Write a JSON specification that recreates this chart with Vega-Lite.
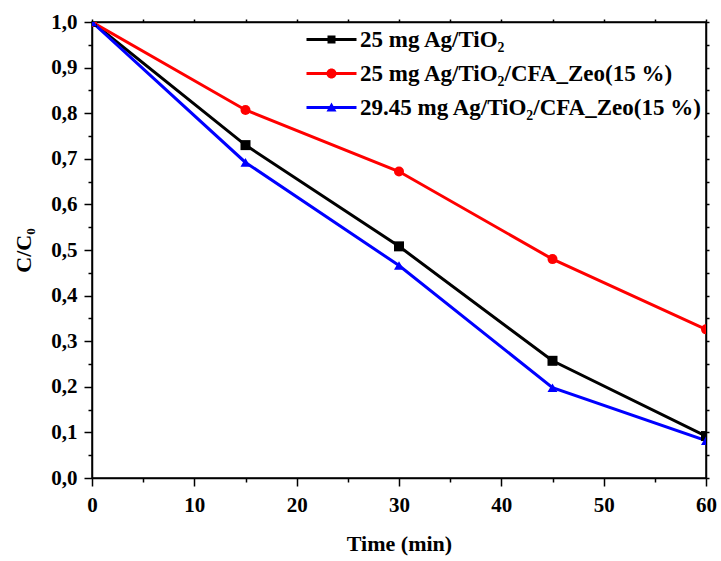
{
  "$schema": "https://vega.github.io/schema/vega-lite/v6.json",
  "width": 614,
  "height": 456,
  "autosize": {"type": "none"},
  "padding": {"left": 92, "top": 22, "right": 15, "bottom": 83},
  "background": "white",
  "config": {
    "font": "Liberation Serif",
    "view": {"stroke": "black", "strokeWidth": 1.5},
    "axis": {
      "labelFont": "Liberation Serif",
      "titleFont": "Liberation Serif",
      "labelFontWeight": "bold",
      "titleFontWeight": "bold",
      "labelFontSize": 21,
      "titleFontSize": 22,
      "labelColor": "black",
      "titleColor": "black",
      "domainColor": "black",
      "tickColor": "black",
      "domainWidth": 1.5,
      "tickWidth": 1.5,
      "grid": false
    }
  },
  "data": {
    "values": [
      {"series": "25 mg Ag/TiO₂", "time": 0, "cc": 1.0},
      {"series": "25 mg Ag/TiO₂", "time": 15, "cc": 0.730},
      {"series": "25 mg Ag/TiO₂", "time": 30, "cc": 0.508},
      {"series": "25 mg Ag/TiO₂", "time": 45, "cc": 0.257},
      {"series": "25 mg Ag/TiO₂", "time": 60, "cc": 0.092},
      {"series": "25 mg Ag/TiO₂/CFA_Zeo(15 %)", "time": 0, "cc": 1.0},
      {"series": "25 mg Ag/TiO₂/CFA_Zeo(15 %)", "time": 15, "cc": 0.807},
      {"series": "25 mg Ag/TiO₂/CFA_Zeo(15 %)", "time": 30, "cc": 0.672},
      {"series": "25 mg Ag/TiO₂/CFA_Zeo(15 %)", "time": 45, "cc": 0.480},
      {"series": "25 mg Ag/TiO₂/CFA_Zeo(15 %)", "time": 60, "cc": 0.326},
      {"series": "29.45 mg Ag/TiO₂/CFA_Zeo(15 %)", "time": 0, "cc": 1.0},
      {"series": "29.45 mg Ag/TiO₂/CFA_Zeo(15 %)", "time": 15, "cc": 0.692},
      {"series": "29.45 mg Ag/TiO₂/CFA_Zeo(15 %)", "time": 30, "cc": 0.466},
      {"series": "29.45 mg Ag/TiO₂/CFA_Zeo(15 %)", "time": 45, "cc": 0.198},
      {"series": "29.45 mg Ag/TiO₂/CFA_Zeo(15 %)", "time": 60, "cc": 0.082}
    ]
  },
  "layer": [
    {
      "mark": {"type": "line", "strokeWidth": 3, "clip": true},
      "encoding": {
        "x": {
          "field": "time", "type": "quantitative",
          "scale": {"domain": [0, 60], "nice": false, "zero": false},
          "axis": {
            "orient": "bottom",
            "title": "Time (min)",
            "values": [0, 5, 10, 15, 20, 25, 30, 35, 40, 45, 50, 55, 60],
            "labelExpr": "datum.value % 10 === 0 ? format(datum.value, 'd') : ''",
            "tickSize": {"condition": {"test": "datum.value % 10 !== 0", "value": 4}, "value": 8},
            "labelPadding": 8,
            "titlePadding": 18,
            "labelFlush": false
          }
        },
        "y": {
          "field": "cc", "type": "quantitative",
          "scale": {"domain": [0, 1], "nice": false},
          "axis": {
            "orient": "left",
            "title": "C/C₀",
            "values": [0, 0.05, 0.1, 0.15, 0.2, 0.25, 0.3, 0.35, 0.4, 0.45, 0.5, 0.55, 0.6, 0.65, 0.7, 0.75, 0.8, 0.85, 0.9, 0.95, 1.0],
            "labelExpr": "round(datum.value * 100) % 10 === 0 ? replace(format(datum.value, '.1f'), '.', ',') : ''",
            "tickSize": {"condition": {"test": "round(datum.value * 100) % 10 !== 0", "value": 4}, "value": 8},
            "labelPadding": 7,
            "titlePadding": 15,
            "labelFlush": false
          }
        },
        "color": {
          "field": "series", "type": "nominal",
          "scale": {
            "domain": ["25 mg Ag/TiO₂", "25 mg Ag/TiO₂/CFA_Zeo(15 %)", "29.45 mg Ag/TiO₂/CFA_Zeo(15 %)"],
            "range": ["#000000", "#ff0000", "#0000ff"]
          },
          "legend": {
            "title": null,
            "orient": "none",
            "legendX": 213,
            "legendY": 6,
            "padding": 0,
            "symbolSize": 400,
            "symbolType": "M-1,-0.15H4V0.15H-1Z",
            "labelOffset": 32,
            "labelFont": "Liberation Serif",
            "labelFontSize": 23,
            "labelFontWeight": "bold",
            "labelColor": "black",
            "labelLimit": 0,
            "rowPadding": 10,
            "encode": {
              "symbols": {
                "update": {
                  "shape": {"signal": "datum.index === 0 ? 'M-1,-0.15H4V0.15H-1Z M1.1,-0.4H1.9V0.4H1.1Z' : datum.index === 1 ? 'M-1,-0.15H4V0.15H-1Z M1,0A0.5,0.5 0 1,1 2,0A0.5,0.5 0 1,1 1,0Z' : 'M-1,-0.15H4V0.15H-1Z M1.5,-0.5L2,0.4L1,0.4Z'"},
                  "fill": {"signal": "scale('color', datum.value)"},
                  "stroke": {"value": "transparent"},
                  "strokeWidth": {"value": 0},
                  "opacity": {"value": 1},
                  "fillOpacity": {"value": 1}
                }
              }
            }
          }
        }
      }
    },
    {
      "transform": [{"filter": "datum.series === '25 mg Ag/TiO₂'"}],
      "mark": {"type": "point", "shape": "square", "filled": true, "opacity": 1, "size": 100, "clip": true},
      "encoding": {
        "x": {
          "field": "time", "type": "quantitative",
          "axis": {
            "orient": "top", "title": null, "labels": false,
            "values": [0, 5, 10, 15, 20, 25, 30, 35, 40, 45, 50, 55, 60],
            "tickSize": 3
          }
        },
        "y": {
          "field": "cc", "type": "quantitative",
          "axis": {
            "orient": "right", "title": null, "labels": false,
            "values": [0, 0.05, 0.1, 0.15, 0.2, 0.25, 0.3, 0.35, 0.4, 0.45, 0.5, 0.55, 0.6, 0.65, 0.7, 0.75, 0.8, 0.85, 0.9, 0.95, 1.0],
            "tickSize": 3
          }
        },
        "color": {"field": "series", "type": "nominal", "legend": null}
      }
    },
    {
      "transform": [{"filter": "datum.series === '25 mg Ag/TiO₂/CFA_Zeo(15 %)'"}],
      "mark": {"type": "point", "shape": "circle", "filled": true, "opacity": 1, "size": 100, "clip": true},
      "encoding": {
        "x": {"field": "time", "type": "quantitative", "axis": null},
        "y": {"field": "cc", "type": "quantitative", "axis": null},
        "color": {"field": "series", "type": "nominal", "legend": null}
      }
    },
    {
      "transform": [{"filter": "datum.series === '29.45 mg Ag/TiO₂/CFA_Zeo(15 %)'"}],
      "mark": {"type": "point", "shape": "triangle-up", "filled": true, "opacity": 1, "size": 100, "clip": true},
      "encoding": {
        "x": {"field": "time", "type": "quantitative", "axis": null},
        "y": {"field": "cc", "type": "quantitative", "axis": null},
        "color": {"field": "series", "type": "nominal", "legend": null}
      }
    }
  ],
  "resolve": {"axis": {"x": "independent", "y": "independent"}}
}
